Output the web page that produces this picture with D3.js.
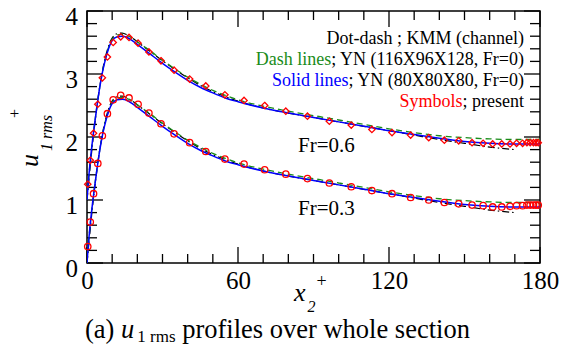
<!DOCTYPE html>
<html>
<head>
<meta charset="utf-8">
<script src="https://cdn.jsdelivr.net/npm/d3@7"></script>
<style>
  html, body { margin: 0; padding: 0; background: #fff; }
  svg, svg text { font-family: "Liberation Serif", "Times New Roman", serif; }
</style>
</head>
<body>
<svg id="chart" width="561" height="349"></svg>
<script>
// Wall-normal positions of the computed points (x2+)
const xPts = [0.3, 1.3, 2.6, 4.3, 6.1, 8.1, 10.4, 13.4, 16.7, 20.3, 24.6, 29.4, 34.6, 40.8,
  47.2, 54.8, 62.4, 70.6, 79.0, 87.6, 96.3, 105.0, 113.2, 121.2, 128.6, 135.8, 142.0,
  147.7, 153.0, 157.4, 161.2, 164.8, 168.1, 170.7, 173.1, 174.8, 176.1, 177.4, 178.4, 179.3];

// Present results, u1 rms+
const uFr03 = [0.26, 0.65, 1.10, 1.58, 2.02, 2.37, 2.59, 2.66, 2.62, 2.52, 2.38, 2.21, 2.05, 1.91,
  1.77, 1.65, 1.57, 1.48, 1.41, 1.34, 1.27, 1.21, 1.15, 1.10, 1.04, 1.00, 0.96,
  0.94, 0.92, 0.91, 0.89, 0.89, 0.90, 0.91, 0.91, 0.92, 0.92, 0.92, 0.92, 0.92];
const uFr06 = [0.25, 0.63, 1.06, 1.52, 1.94, 2.27, 2.50, 2.59, 2.58, 2.49, 2.35, 2.21, 2.06, 1.92,
  1.81, 1.67, 1.58, 1.50, 1.41, 1.33, 1.25, 1.19, 1.12, 1.07, 1.03, 0.99, 0.95,
  0.94, 0.91, 0.90, 0.89, 0.89, 0.89, 0.90, 0.90, 0.91, 0.91, 0.91, 0.91, 0.91];
// Fr=0.6 profiles are shifted up by one unit
const shiftFr06 = 1;

// Reference profiles (Fr=0)
const refX = [0, 1, 2, 3, 4, 5, 6, 7, 8, 9, 10, 12, 14, 16, 18, 20, 25, 30, 35, 40, 45, 50, 55, 60,
  70, 80, 90, 100, 110, 120, 130, 140, 150, 160, 170, 180];
const ynCoarse = [0, 0.50, 0.88, 1.20, 1.50, 1.77, 2.00, 2.18, 2.33, 2.45, 2.53, 2.59, 2.60, 2.58,
  2.53, 2.47, 2.32, 2.17, 2.03, 1.90, 1.79, 1.70, 1.62, 1.56,
  1.46, 1.38, 1.31, 1.24, 1.17, 1.10, 1.04, 0.98, 0.93, 0.90, 0.89, 0.89];
const ynFine = [0, 0.50, 0.88, 1.21, 1.51, 1.78, 2.01, 2.20, 2.35, 2.47, 2.55, 2.62, 2.63, 2.61,
  2.57, 2.51, 2.37, 2.22, 2.08, 1.95, 1.84, 1.74, 1.66, 1.59,
  1.49, 1.41, 1.34, 1.27, 1.20, 1.13, 1.07, 1.02, 0.99, 0.97, 0.96, 0.96];
const kmmX = [0, 1, 2, 3, 4, 5, 6, 7, 8, 9, 10, 12, 14, 16, 18, 20, 25, 30, 35, 40, 45, 50, 55, 60,
  70, 80, 90, 100, 110, 120, 130, 140, 150, 160, 170];
const kmmU = [0, 0.42, 0.82, 1.17, 1.49, 1.78, 2.02, 2.22, 2.37, 2.49, 2.57, 2.64, 2.65, 2.62,
  2.57, 2.51, 2.36, 2.21, 2.07, 1.94, 1.82, 1.72, 1.64, 1.57,
  1.46, 1.38, 1.31, 1.24, 1.17, 1.10, 1.03, 0.96, 0.90, 0.84, 0.80];

const xTicks = [0, 60, 120, 180];
const yTicks = [0, 1, 2, 3, 4];

const FONT = '"Liberation Serif", "Times New Roman", serif';
const svg = d3.select("#chart");
const L = 87, R = 540, T = 11, B = 263;

const x = d3.scaleLinear().domain([0, 180]).range([L, R]);
const y = d3.scaleLinear().domain([0, 4]).range([B, T]);

svg.append("defs").append("clipPath").attr("id", "plotClip")
  .append("rect").attr("x", L).attr("y", T).attr("width", R - L).attr("height", B - T);

// Tick marks pointing inward on all four sides
const tickG = svg.append("g").attr("stroke", "#000").attr("stroke-width", 1.3);
const xMinor = d3.range(0, 181, 10);
const yMinor = d3.range(0, 4.001, 0.2);
xMinor.forEach(v => {
  const major = xTicks.includes(v);
  const len = major ? 16 : 9;
  tickG.append("line").attr("x1", x(v)).attr("x2", x(v)).attr("y1", B).attr("y2", B - len);
  tickG.append("line").attr("x1", x(v)).attr("x2", x(v)).attr("y1", T).attr("y2", T + len);
});
yMinor.forEach(v => {
  const major = Math.abs(v - Math.round(v)) < 1e-6;
  const len = major ? 16 : 10;
  tickG.append("line").attr("y1", y(v)).attr("y2", y(v)).attr("x1", L).attr("x2", L + len);
  tickG.append("line").attr("y1", y(v)).attr("y2", y(v)).attr("x1", R).attr("x2", R - len);
});

// Tick labels via d3 axes (tick lines hidden; the inward marks are drawn above)
const xAxis = svg.append("g").attr("transform", `translate(0,${B})`)
  .call(d3.axisBottom(x).tickValues(xTicks).tickSize(0).tickPadding(8).tickFormat(d3.format("d")));
xAxis.attr("font-family", null).style("font-family", FONT);
xAxis.select(".domain").remove();
xAxis.selectAll("text").style("font-family", FONT).attr("font-size", 25).attr("fill", "#000")
  .attr("dy", "0.71em");

const yAxis = svg.append("g").attr("transform", `translate(${L},0)`)
  .call(d3.axisLeft(y).tickValues(yTicks).tickSize(0).tickPadding(9).tickFormat(d3.format("d")));
yAxis.attr("font-family", null).style("font-family", FONT);
yAxis.select(".domain").remove();
yAxis.selectAll("text").style("font-family", FONT).attr("font-size", 25).attr("fill", "#000")
  .attr("dy", "0.55em");

// Frame
svg.append("rect").attr("x", L).attr("y", T).attr("width", R - L).attr("height", B - T)
  .attr("fill", "none").attr("stroke", "#000").attr("stroke-width", 1.5);

// Profiles
const plot = svg.append("g").attr("clip-path", "url(#plotClip)");
function drawRef(xs, us, shift, color, dash, width) {
  const line = d3.line().x((d, i) => x(xs[i])).y(d => y(d + shift)).curve(d3.curveMonotoneX);
  plot.append("path").datum(us).attr("d", line)
    .attr("fill", "none").attr("stroke", color).attr("stroke-width", width)
    .attr("stroke-dasharray", dash);
}
[0, shiftFr06].forEach(s => {
  drawRef(kmmX, kmmU, s, "#000", "7,3,1.5,3", 1.2);
  drawRef(refX, ynFine, s, "#1a8c1a", "6,4", 1.3);
  drawRef(refX, ynCoarse, s, "#0000ff", null, 1.5);
});

// Present results: circles for Fr=0.3, diamonds for Fr=0.6
const sym = svg.append("g").attr("fill", "none").attr("stroke", "#ff0000").attr("stroke-width", 1.3);
sym.selectAll("circle.fr03").data(uFr03).join("circle").attr("class", "fr03")
  .attr("cx", (d, i) => x(xPts[i])).attr("cy", d => y(d)).attr("r", 3.2);
const dia = d3.symbol().type(d3.symbolDiamond2).size(26);
sym.selectAll("path.fr06").data(uFr06).join("path").attr("class", "fr06")
  .attr("transform", (d, i) => `translate(${x(xPts[i])},${y(d + shiftFr06)})`)
  .attr("d", dia);

// Legend
const leg = svg.append("g").attr("font-size", 18).attr("text-anchor", "end").attr("fill", "#000");
const legRows = [
  [["Dot-dash", "#000"], [" ; KMM (channel)", "#000"]],
  [["Dash lines", "#1a8c1a"], ["; YN (116X96X128, Fr=0)", "#000"]],
  [["Solid lines", "#0000ff"], ["; YN (80X80X80, Fr=0)", "#000"]],
  [["Symbols", "#ff0000"], ["; present", "#000"]]
];
legRows.forEach((row, i) => {
  const t = leg.append("text").attr("x", 524).attr("y", 44 + i * 21);
  row.forEach(([s, c]) => t.append("tspan").attr("fill", c).text(s));
});

// Case labels
svg.append("text").attr("x", 298).attr("y", 152).attr("font-size", 21).text("Fr=0.6");
svg.append("text").attr("x", 298).attr("y", 215).attr("font-size", 21).text("Fr=0.3");

// Axis titles
const xt = svg.append("text").attr("x", 294).attr("y", 301).attr("font-size", 26);
xt.append("tspan").attr("font-style", "italic").text("x");
xt.append("tspan").attr("font-size", 16).attr("font-style", "italic").attr("dx", 2).attr("dy", 11).text("2");
xt.append("tspan").attr("font-size", 18).attr("dx", 1).attr("dy", -25).text("+");

const yt = svg.append("text").attr("transform", "translate(38,167) rotate(-90)").attr("font-size", 26);
yt.append("tspan").attr("font-style", "italic").text("u");
yt.append("tspan").attr("font-size", 16).attr("font-style", "italic").attr("dx", 3).attr("dy", 14).text("1 rms");
yt.append("tspan").attr("font-size", 16).attr("dx", -3).attr("dy", -32).text("+");

// Caption
const cap = svg.append("text").attr("x", 85).attr("y", 338).attr("font-size", 26.5);
cap.append("tspan").text("(a) ");
cap.append("tspan").attr("font-style", "italic").text("u");
cap.append("tspan").attr("font-size", 17).attr("dy", 4).attr("dx", 3).text("1 rms");
cap.append("tspan").attr("dy", -4).text(" profiles over whole section");
</script>
</body>
</html>
